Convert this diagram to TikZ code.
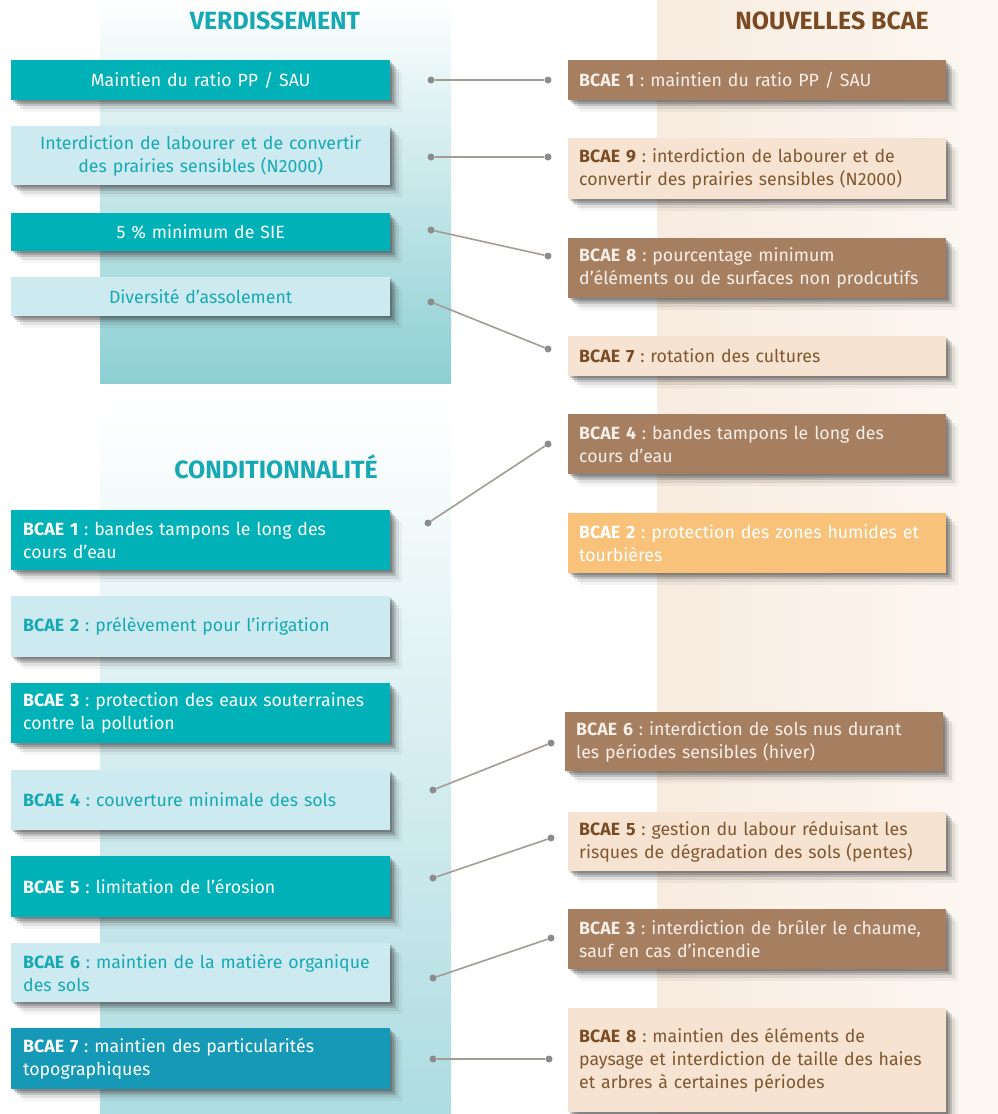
\documentclass[tikz,border=0pt]{standalone}
\usepackage{fontspec}
\setmainfont{Fira Sans}
\usetikzlibrary{shadows}
\definecolor{tealD}{HTML}{00B2B7}
\definecolor{tealL}{HTML}{CDEAF0}
\definecolor{tealT}{HTML}{17A9B3}
\definecolor{tealB}{HTML}{1699B6}
\definecolor{bandA}{HTML}{8CCFD3}
\definecolor{bandAm}{HTML}{B5DFE3}
\definecolor{bandB}{HTML}{ADDCE1}
\definecolor{beigeBgL}{HTML}{F8EBDF}
\definecolor{beigeBgR}{HTML}{FDF8F3}
\definecolor{brownD}{HTML}{A67F61}
\definecolor{beigeBox}{HTML}{F6E3D2}
\definecolor{orangeBox}{HTML}{F8C27B}
\definecolor{brownT}{HTML}{7A4A23}
\definecolor{brownTxt}{HTML}{80572F}
\definecolor{paleTxt}{HTML}{F7EFE8}
\definecolor{dotgray}{HTML}{8C8C8C}
\definecolor{linegray}{HTML}{A39C94}
\newcommand{\ol}[1]{\mbox{#1}}
\tikzset{
  softshadow/.style={
    drop shadow={shadow xshift=2bp, shadow yshift=-2bp, opacity=0.25, fill=black!80},
    drop shadow={shadow xshift=4bp, shadow yshift=-4bp, opacity=0.22, fill=black!80},
    drop shadow={shadow xshift=6bp, shadow yshift=-6bp, opacity=0.18, fill=black!80},
    drop shadow={shadow xshift=9bp, shadow yshift=-9bp, opacity=0.10, fill=black!80},
    drop shadow={shadow xshift=12bp, shadow yshift=-12bp, opacity=0.05, fill=black!80}},
  basebox/.style={anchor=north west, inner ysep=0pt, softshadow,
    font=\fontsize{17.8}{23}\selectfont\frenchspacing},
  lbox/.style={basebox, inner xsep=12bp, text width=355bp, minimum width=379bp, align=left},
  rbox/.style={basebox, inner xsep=11bp, text width=356bp, minimum width=378bp, align=left},
  title/.style={font=\fontsize{25}{28}\selectfont\bfseries},
  dot/.style={circle, fill=dotgray, inner sep=0pt, minimum size=7bp},
  conn/.style={draw=linegray, line width=1.6bp}
}
\begin{document}
\begin{tikzpicture}[x=1bp,y=-1bp]
\useasboundingbox (0,0) rectangle (998,1114);
% backgrounds
\fill[white] (0,0) rectangle (998,1114);
\shade[left color=beigeBgL, right color=beigeBgR] (657,0) rectangle (998,1114);
\shade[top color=white, middle color=bandAm, bottom color=bandA] (100,0) rectangle (451,383);
\shade[top color=white, bottom color=bandB] (100,405) rectangle (451,1114);
% titles
\node[title, text=tealT] (tv) at (275,21) {VERDISSEMENT};
\node[title, text=tealT] (tc) at (276,467) {CONDITIONNALITÉ};
\node[title, text=brownT] (tn) at (832,21) {NOUVELLES BCAE};
% left top boxes
\node[lbox, fill=tealD, text=white, minimum height=40bp, align=center] (v1) at (11,60) {\ol{Maintien du ratio PP / SAU}};
\node[lbox, fill=tealL, text=tealT, minimum height=59bp, align=center] (v2) at (11,126) {\ol{Interdiction de labourer et de convertir}\\\ol{des prairies sensibles (N2000)}};
\node[lbox, fill=tealD, text=white, minimum height=38bp, align=center] (v3) at (11,213) {\ol{5 \% minimum de SIE}};
\node[lbox, fill=tealL, text=tealT, minimum height=39bp, align=center] (v4) at (11,277) {\ol{Diversité d’assolement}};
% left bottom boxes
\node[lbox, fill=tealD, text=white, minimum height=60bp] (c1) at (11,510) {\ol{\textbf{BCAE 1} : bandes tampons le long des}\\\ol{cours d’eau}};
\node[lbox, fill=tealL, text=tealT, minimum height=61bp] (c2) at (11,596) {\ol{\textbf{BCAE 2} : prélèvement pour l’irrigation}};
\node[lbox, fill=tealD, text=white, minimum height=60bp] (c3) at (11,683) {\ol{\textbf{BCAE 3} : protection des eaux souterraines}\\\ol{contre la pollution}};
\node[lbox, fill=tealL, text=tealT, minimum height=60bp] (c4) at (11,770) {\ol{\textbf{BCAE 4} : couverture minimale des sols}};
\node[lbox, fill=tealD, text=white, minimum height=61bp] (c5) at (11,856) {\ol{\textbf{BCAE 5} : limitation de l’érosion}};
\node[lbox, fill=tealL, text=tealT, minimum height=59bp] (c6) at (11,943) {\ol{\textbf{BCAE 6} : maintien de la matière organique}\\\ol{des sols}};
\node[lbox, fill=tealB, text=white, minimum height=61bp] (c7) at (11,1028) {\ol{\textbf{BCAE 7} : maintien des particularités}\\\ol{topographiques}};
% right top boxes
\node[rbox, fill=brownD, text=paleTxt, minimum height=40bp] (r1) at (568,60) {\ol{\textbf{BCAE 1} : maintien du ratio PP / SAU}};
\node[rbox, fill=beigeBox, text=brownTxt, minimum height=61bp] (r2) at (568,138) {\ol{\textbf{\color{brownT}BCAE 9} : interdiction de labourer et de}\\\ol{convertir des prairies sensibles (N2000)}};
\node[rbox, fill=brownD, text=paleTxt, minimum height=60bp] (r3) at (568,238) {\ol{\textbf{BCAE 8} : pourcentage minimum}\\\ol{d’éléments ou de surfaces non prodcutifs}};
\node[rbox, fill=beigeBox, text=brownTxt, minimum height=40bp] (r4) at (568,336) {\ol{\textbf{\color{brownT}BCAE 7} : rotation des cultures}};
% right bottom boxes
\node[rbox, fill=brownD, text=paleTxt, minimum height=60bp] (r5) at (568,414) {\ol{\textbf{BCAE 4} : bandes tampons le long des}\\\ol{cours d’eau}};
\node[rbox, fill=orangeBox, text=white, minimum height=60bp] (r6) at (568,513) {\ol{\textbf{BCAE 2} : protection des zones humides et}\\\ol{tourbières}};
\node[rbox, fill=brownD, text=paleTxt, minimum height=59bp] (r7) at (565,712) {\ol{\textbf{BCAE 6} : interdiction de sols nus durant}\\\ol{les périodes sensibles (hiver)}};
\node[rbox, fill=beigeBox, text=brownTxt, minimum height=59bp] (r8) at (568,812) {\ol{\textbf{\color{brownT}BCAE 5} : gestion du labour réduisant les}\\\ol{risques de dégradation des sols (pentes)}};
\node[rbox, fill=brownD, text=paleTxt, minimum height=60bp] (r9) at (568,909) {\ol{\textbf{BCAE 3} : interdiction de brûler le chaume,}\\\ol{sauf en cas d’incendie}};
\node[rbox, fill=beigeBox, text=brownTxt, minimum height=104bp] (r10) at (568,1008) {\ol{\textbf{\color{brownT}BCAE 8} : maintien des éléments de}\\\ol{paysage et interdiction de taille des haies}\\\ol{et arbres à certaines périodes}};
% dots
\node[dot] (dl1) at (431,80) {};
\node[dot] (dl2) at (431,157) {};
\node[dot] (dl3) at (431,230) {};
\node[dot] (dl4) at (431,302) {};
\node[dot] (dr1) at (548,80) {};
\node[dot] (dr2) at (548,157) {};
\node[dot] (dr3) at (548,256) {};
\node[dot] (dr4) at (548,349) {};
\node[dot] (dc1) at (428,523) {};
\node[dot] (dc4) at (433,790) {};
\node[dot] (dc5) at (433,878) {};
\node[dot] (dc6) at (433,978) {};
\node[dot] (dc7) at (433,1059) {};
\node[dot] (dr5) at (548,444) {};
\node[dot] (dr7) at (551,743) {};
\node[dot] (dr8) at (551,838) {};
\node[dot] (dr9) at (551,938) {};
\node[dot] (dr10) at (549,1059) {};
% connectors
\draw[conn] (dl1) -- (dr1);
\draw[conn] (dl2) -- (dr2);
\draw[conn] (dl3) -- (dr3);
\draw[conn] (dl4) -- (dr4);
\draw[conn] (dc1) -- (dr5);
\draw[conn] (dc4) -- (dr7);
\draw[conn] (dc5) -- (dr8);
\draw[conn] (dc6) -- (dr9);
\draw[conn] (dc7) -- (dr10);
\end{tikzpicture}
\end{document}
